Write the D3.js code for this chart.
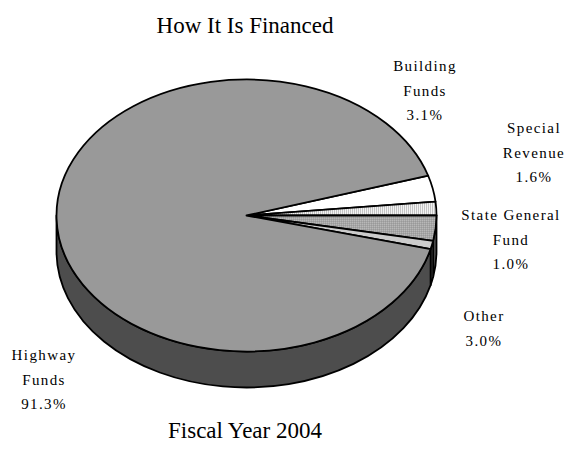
<!DOCTYPE html>
<html>
<head>
<meta charset="utf-8">
<script src="https://cdn.jsdelivr.net/npm/d3@7"></script>
<style>
  html, body { margin: 0; padding: 0; background: #fff; }
  svg text { font-family: "Liberation Serif", "Times New Roman", serif; fill: #000; }
</style>
</head>
<body>
<svg id="chart" width="570" height="460"></svg>
<script>
// Funding sources, in the order they are drawn (clockwise from the start angle)
const categories = ["Building Funds", "Special Revenue", "Other", "State General Fund", "Highway Funds"];
const shares = [3.1, 1.6, 3.0, 1.0, 91.3];
const labelLines = {
  "Highway Funds": ["Highway", "Funds", "91.3%"],
  "Building Funds": ["Building", "Funds", "3.1%"],
  "Special Revenue": ["Special", "Revenue", "1.6%"],
  "State General Fund": ["State General", "Fund", "1.0%"],
  "Other": ["Other", "3.0%"]
};

// Layout of the tilted pie
const cx = 246.5, cy = 215.5, rx = 190, ry = 136, depth = 36;
const startDeg = -17;

// Label anchor points (centre of the first line)
const labelAnchor = {
  "Highway Funds": [44, 360],
  "Building Funds": [425, 71],
  "Special Revenue": [534, 133],
  "State General Fund": [511, 220],
  "Other": [484, 321]
};

const topFill = {
  "Highway Funds": "#999999",
  "Building Funds": "#ffffff",
  "Special Revenue": "url(#vstripes)",
  "Other": "url(#dots)",
  "State General Fund": "#cccccc"
};
const sideFill = {
  "Highway Funds": "#4d4d4d",
  "Building Funds": "#808080",
  "Special Revenue": "#777777",
  "Other": "#555555",
  "State General Fund": "#666666"
};

const svg = d3.select("#chart");
const defs = svg.append("defs");

const stripes = defs.append("pattern").attr("id", "vstripes")
  .attr("patternUnits", "userSpaceOnUse").attr("width", 2).attr("height", 4);
stripes.append("rect").attr("width", 2).attr("height", 4).attr("fill", "#f2f2f2");
stripes.append("rect").attr("width", 1).attr("height", 4).attr("fill", "#c4c4c4");

const dots = defs.append("pattern").attr("id", "dots")
  .attr("patternUnits", "userSpaceOnUse").attr("width", 2).attr("height", 2);
dots.append("rect").attr("width", 2).attr("height", 2).attr("fill", "#a6a6a6");
dots.append("rect").attr("width", 1).attr("height", 1).attr("fill", "#b8b8b8");
dots.append("rect").attr("x", 1).attr("y", 1).attr("width", 1).attr("height", 1).attr("fill", "#999999");

const data = categories.map((c, i) => ({ name: c, value: shares[i] }));

const t0 = startDeg * Math.PI / 180;
const pie = d3.pie().value(d => d.value).sort(null)
  .startAngle(t0).endAngle(t0 + 2 * Math.PI);
const arcs = pie(data);

// Parametric point on the ellipse; t grows clockwise on screen, 0 at 3 o'clock
const pt = (t, dy = 0) => [cx + rx * Math.cos(t), cy + ry * Math.sin(t) + dy];

function topPath(a, b) {
  const p = d3.path();
  p.moveTo(cx, cy);
  const [x1, y1] = pt(a);
  p.lineTo(x1, y1);
  const [x2, y2] = pt(b);
  const large = (b - a) > Math.PI ? 1 : 0;
  return p.toString() + `A${rx},${ry} 0 ${large} 1 ${x2},${y2}Z`;
}

function sidePath(a, b) {
  const large = (b - a) > Math.PI ? 1 : 0;
  const [x1, y1] = pt(a), [x2, y2] = pt(b);
  const [x3, y3] = pt(b, depth), [x4, y4] = pt(a, depth);
  return `M${x1},${y1}A${rx},${ry} 0 ${large} 1 ${x2},${y2}L${x3},${y3}` +
         `A${rx},${ry} 0 ${large} 0 ${x4},${y4}Z`;
}

// Front wall: only the part of each slice lying in the lower half (0..π) is visible
const walls = [];
arcs.forEach(d => {
  for (const k of [-1, 0, 1]) {
    const a = Math.max(d.startAngle + k * 2 * Math.PI, 0);
    const b = Math.min(d.endAngle + k * 2 * Math.PI, Math.PI);
    if (b > a) walls.push({ name: d.data.name, a, b });
  }
});

const g = svg.append("g");
g.selectAll("path.wall").data(walls).join("path")
  .attr("class", "wall")
  .attr("d", w => sidePath(w.a, w.b))
  .attr("fill", w => sideFill[w.name])
  .attr("stroke", "#000").attr("stroke-width", 1.8).attr("stroke-linejoin", "round");

g.selectAll("path.top").data(arcs).join("path")
  .attr("class", "top")
  .attr("d", d => topPath(d.startAngle, d.endAngle))
  .attr("fill", d => topFill[d.data.name])
  .attr("stroke", "#000").attr("stroke-width", 1.8).attr("stroke-linejoin", "round");

// Slice labels
const lineGap = 24.5;
const lbl = svg.append("g").attr("font-size", 15).attr("letter-spacing", 1.4)
  .attr("text-anchor", "middle");
data.forEach(d => {
  const [lx, ly] = labelAnchor[d.name];
  const t = lbl.append("text").attr("x", lx).attr("y", ly);
  labelLines[d.name].forEach((line, i) => {
    t.append("tspan").attr("x", lx).attr("y", ly + i * lineGap).text(line);
  });
});

// Titles
svg.append("text").attr("x", 245).attr("y", 33).attr("text-anchor", "middle")
  .attr("font-size", 23).text("How It Is Financed");
svg.append("text").attr("x", 245).attr("y", 438).attr("text-anchor", "middle")
  .attr("font-size", 23).text("Fiscal Year 2004");
</script>
</body>
</html>
